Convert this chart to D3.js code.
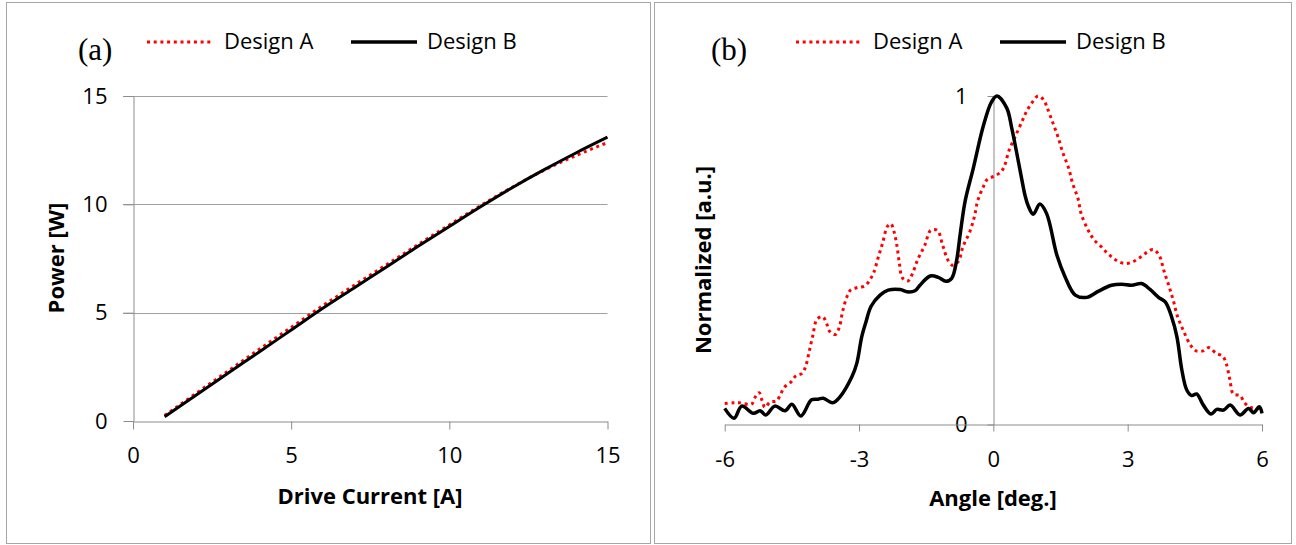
<!DOCTYPE html>
<html lang="en">
<head>
    <meta charset="utf-8">
    <script src="https://cdn.jsdelivr.net/npm/d3@7"></script>
    <style type="text/css">
        body { margin: 0; background: #fff; }
        text { font-family: 'Open Sans', sans-serif; fill: #000; }
        .tick line, .domain { stroke: #8c8c8c; }
    </style>
</head>
<body>
<script>
    // panel (a): power vs drive current
    var current = [1, 2, 3, 4, 5, 6, 7, 8, 9, 10, 11, 12, 13, 14, 15];
    var powerA = [0.25, 1.28, 2.3, 3.32, 4.32, 5.32, 6.27, 7.2, 8.13, 9.05, 9.95, 10.8, 11.58, 12.25, 12.85];
    var powerB = [0.2, 1.2, 2.2, 3.2, 4.2, 5.2, 6.15, 7.1, 8.05, 8.98, 9.9, 10.78, 11.6, 12.37, 13.1];
    var ticksA = [0, 5, 10, 15];

    // panel (b): far field, normalized
    var angleA = [-6.0, -5.81, -5.67, -5.4, -5.32, -5.23, -5.17, -5.1, -4.99, -4.84, -4.75, -4.67, -4.53, -4.41,
        -4.27, -4.19, -4.11, -4.03, -3.94, -3.81, -3.72, -3.66, -3.53, -3.44, -3.37, -3.27, -3.19, -3.04, -2.87,
        -2.75, -2.67, -2.57, -2.47, -2.37, -2.29, -2.22, -2.15, -2.1, -2.03, -1.91, -1.81, -1.69, -1.53, -1.4,
        -1.25, -1.13, -1.01, -0.91, -0.78, -0.68, -0.52, -0.42, -0.35, -0.22, -0.13, 0.02, 0.17, 0.25, 0.35,
        0.5, 0.65, 0.73, 0.84, 1.0, 1.13, 1.2, 1.33, 1.45, 1.55, 1.68, 1.77, 1.89, 1.96, 2.09, 2.18, 2.27, 2.41,
        2.53, 2.67, 2.81, 2.98, 3.14, 3.29, 3.43, 3.57, 3.7, 3.81, 3.92, 4.02, 4.11, 4.25, 4.41, 4.53, 4.68,
        4.82, 4.97, 5.12, 5.2, 5.28, 5.36, 5.51, 5.61, 5.75, 5.92, 6.0];
    var normA = [0.064, 0.066, 0.066, 0.062, 0.083, 0.097, 0.075, 0.052, 0.068, 0.072, 0.093, 0.113, 0.128, 0.148,
        0.156, 0.178, 0.224, 0.272, 0.32, 0.328, 0.306, 0.284, 0.274, 0.296, 0.342, 0.389, 0.409, 0.417, 0.422,
        0.442, 0.463, 0.509, 0.554, 0.602, 0.611, 0.588, 0.541, 0.492, 0.446, 0.437, 0.458, 0.502, 0.546, 0.591,
        0.591, 0.545, 0.499, 0.485, 0.497, 0.541, 0.589, 0.635, 0.681, 0.725, 0.747, 0.756, 0.769, 0.788, 0.834,
        0.88, 0.926, 0.95, 0.975, 1.0, 0.987, 0.965, 0.918, 0.873, 0.828, 0.781, 0.734, 0.688, 0.642, 0.599, 0.576,
        0.559, 0.541, 0.524, 0.507, 0.495, 0.49, 0.497, 0.51, 0.524, 0.533, 0.516, 0.468, 0.422, 0.377, 0.33,
        0.284, 0.24, 0.224, 0.224, 0.234, 0.217, 0.208, 0.186, 0.138, 0.093, 0.088, 0.066, 0.052, 0.049, 0.044];
    var angleB = [-6.0, -5.79, -5.62, -5.36, -5.21, -5.08, -4.88, -4.65, -4.5, -4.3, -4.06, -3.91, -3.8, -3.59,
        -3.42, -3.16, -3.05, -2.94, -2.85, -2.73, -2.53, -2.35, -2.08, -1.93, -1.75, -1.64, -1.41, -1.23, -1.06,
        -0.93, -0.82, -0.74, -0.63, -0.45, -0.22, -0.04, 0.08, 0.3, 0.41, 0.52, 0.63, 0.71, 0.78, 0.89, 1.04,
        1.19, 1.42, 1.6, 1.83, 2.09, 2.35, 2.64, 2.87, 3.09, 3.31, 3.5, 3.69, 3.84, 3.98, 4.1, 4.21, 4.32, 4.43,
        4.54, 4.69, 4.86, 4.99, 5.14, 5.29, 5.51, 5.7, 5.81, 5.94, 6.0];
    var normB = [0.049, 0.019, 0.056, 0.034, 0.042, 0.029, 0.056, 0.042, 0.062, 0.026, 0.075, 0.077, 0.08, 0.066,
        0.085, 0.145, 0.186, 0.267, 0.31, 0.36, 0.394, 0.409, 0.411, 0.404, 0.407, 0.424, 0.452, 0.448, 0.436,
        0.445, 0.5, 0.58, 0.68, 0.779, 0.911, 0.982, 1.0, 0.963, 0.903, 0.828, 0.75, 0.696, 0.665, 0.64, 0.671,
        0.642, 0.515, 0.45, 0.394, 0.387, 0.406, 0.424, 0.427, 0.424, 0.429, 0.411, 0.387, 0.373, 0.328, 0.267,
        0.166, 0.105, 0.088, 0.093, 0.059, 0.032, 0.046, 0.044, 0.059, 0.029, 0.049, 0.036, 0.054, 0.034];
    var ticksB = [-6, -3, 0, 3, 6];

    var seriesNames = ['Design A', 'Design B'];

    var svg = d3.select('body')
            .append('svg')
            .attr('width', 1296)
            .attr('height', 545);

    svg.append('rect')
            .attr('width', 1296).attr('height', 545)
            .attr('fill', '#fff');

    // panel frames
    svg.append('rect')
            .attr('x', 6.5).attr('y', 2.5).attr('width', 644).attr('height', 541)
            .attr('fill', 'none').attr('stroke', '#a6a6a6');
    svg.append('rect')
            .attr('x', 654.5).attr('y', 2.5).attr('width', 637).attr('height', 541)
            .attr('fill', 'none').attr('stroke', '#a6a6a6');

    function plain(d) {
        return String(d);   // keep the ascii hyphen for negatives
    }

    function drawLegend(x0) {
        var g = svg.append('g').attr('transform', 'translate(' + x0 + ',0)');
        g.append('line')
                .attr('x1', 0).attr('x2', 67).attr('y1', 42).attr('y2', 42)
                .attr('stroke', '#ff0000').attr('stroke-width', 3)
                .attr('stroke-dasharray', '3 3.7');
        g.append('text').attr('x', 77).attr('y', 49)
                .style('font-size', '22px').text(seriesNames[0]);
        g.append('line')
                .attr('x1', 204).attr('x2', 270).attr('y1', 42).attr('y2', 42)
                .attr('stroke', '#000').attr('stroke-width', 3.5);
        g.append('text').attr('x', 280).attr('y', 49)
                .style('font-size', '22px').text(seriesNames[1]);
    }

    // ---------- panel (a) ----------
    var xA = d3.scaleLinear().domain([0, 15]).range([133, 607.5]);
    var yA = d3.scaleLinear().domain([0, 15]).range([421, 96]);

    svg.append('text')
            .attr('x', 78).attr('y', 60)
            .style('font-family', "'Liberation Serif', 'Times New Roman', serif")
            .style('font-size', '31px')
            .text('(a)');
    drawLegend(147);

    svg.append('g')
            .selectAll('line')
            .data(ticksA.slice(1))
            .enter()
            .append('line')
            .attr('x1', 123).attr('x2', 607.5)
            .attr('y1', function (d) { return Math.round(yA(d)) + 0.5; })
            .attr('y2', function (d) { return Math.round(yA(d)) + 0.5; })
            .attr('stroke', '#a0a0a0');

    var axLeftA = svg.append('g')
            .attr('transform', 'translate(133.5,0)')
            .call(d3.axisLeft(yA).tickValues(ticksA).tickFormat(plain)
                    .tickSize(10).tickSizeOuter(0).tickPadding(16));
    var axBottomA = svg.append('g')
            .attr('transform', 'translate(0,421.5)')
            .call(d3.axisBottom(xA).tickValues(ticksA).tickFormat(plain)
                    .tickSize(8).tickSizeOuter(0).tickPadding(18));
    [axLeftA, axBottomA].forEach(function (ax) {
        ax.selectAll('text').style('font-size', '22px').style('font-family', "'Open Sans', sans-serif");
    });

    var lineA = d3.line()
            .x(function (d) { return xA(d[0]); })
            .y(function (d) { return yA(d[1]); })
            .curve(d3.curveMonotoneX);

    svg.append('path')
            .datum(d3.zip(current, powerA))
            .attr('d', lineA)
            .attr('fill', 'none')
            .attr('stroke', '#ff0000')
            .attr('stroke-width', 3)
            .attr('stroke-dasharray', '3 3.7');
    svg.append('path')
            .datum(d3.zip(current, powerB))
            .attr('d', lineA)
            .attr('fill', 'none')
            .attr('stroke', '#000')
            .attr('stroke-width', 3);

    svg.append('text')
            .attr('x', 370).attr('y', 504)
            .attr('text-anchor', 'middle')
            .style('font-size', '22px').style('font-weight', 'bold')
            .text('Drive Current [A]');
    svg.append('text')
            .attr('transform', 'translate(64,258) rotate(-90)')
            .attr('text-anchor', 'middle')
            .style('font-size', '22px').style('font-weight', 'bold')
            .text('Power [W]');

    // ---------- panel (b) ----------
    var xB = d3.scaleLinear().domain([-6, 6]).range([724.7, 1262]);
    var yB = d3.scaleLinear().domain([0, 1]).range([424.5, 96]);

    svg.append('text')
            .attr('x', 711).attr('y', 60)
            .style('font-family', "'Liberation Serif', 'Times New Roman', serif")
            .style('font-size', '31px')
            .text('(b)');
    drawLegend(796);

    var axLeftB = svg.append('g')
            .attr('transform', 'translate(' + (Math.round(xB(0)) + 0.5) + ',0)')
            .call(d3.axisLeft(yB).tickValues([0, 1]).tickFormat(plain)
                    .tickSize(6).tickSizeOuter(0).tickPadding(20));
    var axBottomB = svg.append('g')
            .attr('transform', 'translate(0,424.5)')
            .call(d3.axisBottom(xB).tickValues(ticksB).tickFormat(plain)
                    .tickSize(7).tickSizeOuter(0).tickPadding(20));
    [axLeftB, axBottomB].forEach(function (ax) {
        ax.selectAll('text').style('font-size', '22px').style('font-family', "'Open Sans', sans-serif");
    });

    var lineB = d3.line()
            .x(function (d) { return xB(d[0]); })
            .y(function (d) { return yB(d[1]); })
            .curve(d3.curveCatmullRom.alpha(0.5));

    svg.append('path')
            .datum(d3.zip(angleA, normA))
            .attr('d', lineB)
            .attr('fill', 'none')
            .attr('stroke', '#ff0000')
            .attr('stroke-width', 3)
            .attr('stroke-dasharray', '3 3.7');
    svg.append('path')
            .datum(d3.zip(angleB, normB))
            .attr('d', lineB)
            .attr('fill', 'none')
            .attr('stroke', '#000')
            .attr('stroke-width', 3.5)
            .attr('stroke-linejoin', 'round');

    svg.append('text')
            .attr('x', 993).attr('y', 506)
            .attr('text-anchor', 'middle')
            .style('font-size', '22px').style('font-weight', 'bold')
            .text('Angle [deg.]');
    svg.append('text')
            .attr('transform', 'translate(711,260) rotate(-90)')
            .attr('text-anchor', 'middle')
            .style('font-size', '22px').style('font-weight', 'bold')
            .text('Normalized [a.u.]');
</script>
</body>
</html>
